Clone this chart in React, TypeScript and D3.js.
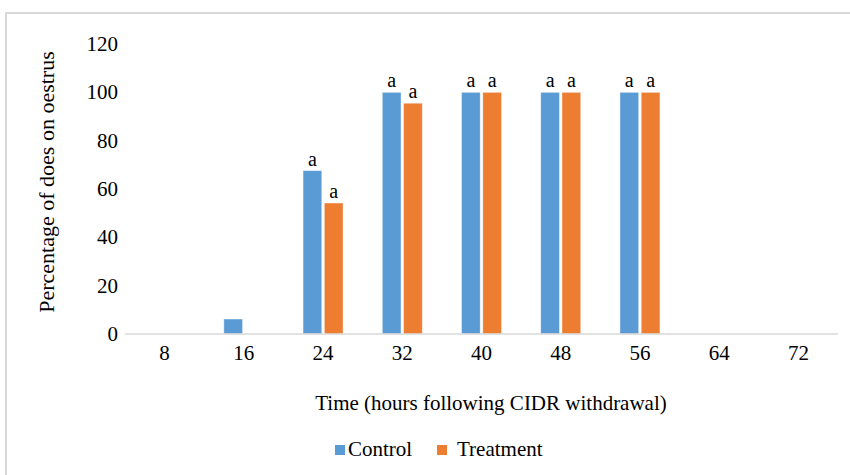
import { useRef, useEffect } from 'react';
import * as d3 from 'd3';

const HOURS = ['8', '16', '24', '32', '40', '48', '56', '64', '72'];
const SERIES_NAMES = ['Control', 'Treatment'];
const CONTROL = [0, 6.2, 67.6, 100, 100, 100, 100, 0, 0];
const TREATMENT = [0, 0, 54.2, 95.5, 100, 100, 100, 0, 0];
const LETTERS_CONTROL = ['', '', 'a', 'a', 'a', 'a', 'a', '', ''];
const LETTERS_TREATMENT = ['', '', 'a', 'a', 'a', 'a', 'a', '', ''];
const Y_TICKS = [0, 20, 40, 60, 80, 100, 120];
const COLORS = ['#5B9BD5', '#ED7D31'];

const W = 850, H = 475;
const M = { top: 44, left: 125, right: 12, bottom: 141 };
const FONT = '"Liberation Serif", "Times New Roman", serif';
const FS = 21;

export default function App() {
  const svgRef = useRef<SVGSVGElement>(null);

  useEffect(() => {
    const svg = d3.select(svgRef.current);
    svg.selectAll('*').remove();

    const x0 = d3.scaleBand<string>().domain(HOURS).range([M.left, W - M.right]);
    const x1 = d3.scaleBand<string>().domain(SERIES_NAMES).range([-20, 20]).paddingInner(0.12);
    const y = d3.scaleLinear().domain([0, 120]).range([H - M.bottom, M.top]);

    // chart area border
    svg.append('rect').attr('x', 6).attr('y', 13).attr('width', W).attr('height', H)
      .attr('fill', 'none').attr('stroke', '#d9d9d9').attr('stroke-width', 2);

    // y tick labels
    svg.append('g').selectAll('text').data(Y_TICKS).join('text')
      .attr('x', M.left - 7).attr('y', d => y(d) + 7).attr('text-anchor', 'end')
      .attr('font-family', FONT).attr('font-size', FS).attr('fill', '#000').text(d => d);

    const series = [CONTROL, TREATMENT];
    const letters = [LETTERS_CONTROL, LETTERS_TREATMENT];
    series.forEach((vals, k) => {
      const g = svg.append('g');
      g.selectAll('rect').data(vals.map((v, i) => ({ v, i })).filter(d => d.v > 0)).join('rect')
        .attr('x', d => x0(HOURS[d.i])! + x0.bandwidth() / 2 + x1(SERIES_NAMES[k])!)
        .attr('y', d => y(d.v))
        .attr('width', x1.bandwidth())
        .attr('height', d => y(0) - y(d.v))
        .attr('fill', COLORS[k]).attr('stroke', '#fff').attr('stroke-opacity', 0.5).attr('stroke-width', 0.8);
      g.selectAll('text').data(vals.map((v, i) => ({ v, i, t: letters[k][i] })).filter(d => d.t)).join('text')
        .attr('x', d => x0(HOURS[d.i])! + x0.bandwidth() / 2 + x1(SERIES_NAMES[k])! + x1.bandwidth() / 2)
        .attr('y', d => y(d.v) - 5).attr('text-anchor', 'middle')
        .attr('font-family', FONT).attr('font-size', 20).attr('fill', '#000').text(d => d.t);
    });

    // x axis line
    svg.append('line').attr('x1', M.left).attr('x2', W - M.right)
      .attr('y1', y(0)).attr('y2', y(0)).attr('stroke', '#d9d9d9').attr('stroke-width', 1.5);

    // x tick labels
    svg.append('g').selectAll('text').data(HOURS).join('text')
      .attr('x', d => x0(d)! + x0.bandwidth() / 2).attr('y', y(0) + 26).attr('text-anchor', 'middle')
      .attr('font-family', FONT).attr('font-size', FS).attr('fill', '#000').text(d => d);

    // axis titles
    svg.append('text').attr('x', 491).attr('y', 410).attr('text-anchor', 'middle')
      .attr('font-family', FONT).attr('font-size', FS).attr('fill', '#000')
      .text('Time (hours following CIDR withdrawal)');
    svg.append('text').attr('transform', `translate(54,182) rotate(-90)`).attr('text-anchor', 'middle')
      .attr('font-family', FONT).attr('font-size', 22).attr('fill', '#000')
      .text('Percentage of does on oestrus');

    // legend
    const legendX = [335, 437];
    SERIES_NAMES.forEach((name, k) => {
      svg.append('rect').attr('x', legendX[k]).attr('y', 445).attr('width', 10).attr('height', 10)
        .attr('fill', COLORS[k]);
      svg.append('text').attr('x', legendX[k] + (k === 0 ? 13 : 20)).attr('y', 456)
        .attr('font-family', FONT).attr('font-size', FS).attr('fill', '#000').text(name);
    });
  }, []);

  return (
    <div style={{ position: 'absolute', left: 0, top: 0 }}>
      <svg ref={svgRef} width={W} height={H} style={{ display: 'block', background: '#fff' }} />
    </div>
  );
}
